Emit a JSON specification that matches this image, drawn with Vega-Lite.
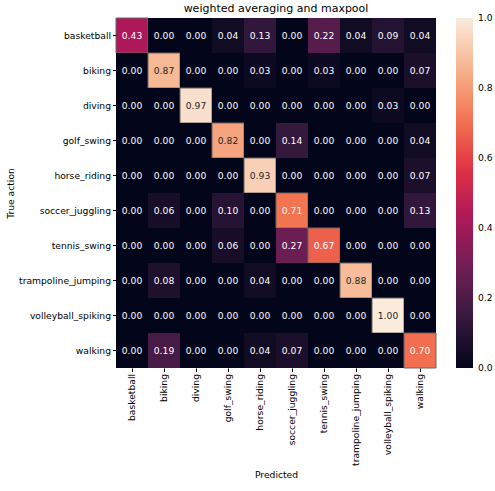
{
  "$schema": "https://vega.github.io/schema/vega-lite/v6.json",
  "autosize": {"type": "none"},
  "padding": {"left": 116, "top": 18, "right": 59, "bottom": 123},
  "width": 320,
  "height": 350,
  "background": "white",
  "title": {"text": "weighted averaging and maxpool", "font": "DejaVu Sans", "fontSize": 11, "fontWeight": "normal", "color": "black", "offset": 4, "anchor": "middle"},
  "config": {
    "view": {"stroke": null},
    "font": "DejaVu Sans",
    "axis": {"labelFont": "DejaVu Sans", "titleFont": "DejaVu Sans", "labelFontSize": 9.2, "titleFontSize": 9.2, "titleFontWeight": "normal", "labelColor": "black", "titleColor": "black", "tickColor": "black", "tickSize": 3.5, "domain": false, "grid": false, "labelPadding": 2}
  },
  "data": {"values": [
    {"t":"basketball","p":"basketball","v":0.43},{"t":"basketball","p":"biking","v":0.00},{"t":"basketball","p":"diving","v":0.00},{"t":"basketball","p":"golf_swing","v":0.04},{"t":"basketball","p":"horse_riding","v":0.13},{"t":"basketball","p":"soccer_juggling","v":0.00},{"t":"basketball","p":"tennis_swing","v":0.22},{"t":"basketball","p":"trampoline_jumping","v":0.04},{"t":"basketball","p":"volleyball_spiking","v":0.09},{"t":"basketball","p":"walking","v":0.04},
    {"t":"biking","p":"basketball","v":0.00},{"t":"biking","p":"biking","v":0.87},{"t":"biking","p":"diving","v":0.00},{"t":"biking","p":"golf_swing","v":0.00},{"t":"biking","p":"horse_riding","v":0.03},{"t":"biking","p":"soccer_juggling","v":0.00},{"t":"biking","p":"tennis_swing","v":0.03},{"t":"biking","p":"trampoline_jumping","v":0.00},{"t":"biking","p":"volleyball_spiking","v":0.00},{"t":"biking","p":"walking","v":0.07},
    {"t":"diving","p":"basketball","v":0.00},{"t":"diving","p":"biking","v":0.00},{"t":"diving","p":"diving","v":0.97},{"t":"diving","p":"golf_swing","v":0.00},{"t":"diving","p":"horse_riding","v":0.00},{"t":"diving","p":"soccer_juggling","v":0.00},{"t":"diving","p":"tennis_swing","v":0.00},{"t":"diving","p":"trampoline_jumping","v":0.00},{"t":"diving","p":"volleyball_spiking","v":0.03},{"t":"diving","p":"walking","v":0.00},
    {"t":"golf_swing","p":"basketball","v":0.00},{"t":"golf_swing","p":"biking","v":0.00},{"t":"golf_swing","p":"diving","v":0.00},{"t":"golf_swing","p":"golf_swing","v":0.82},{"t":"golf_swing","p":"horse_riding","v":0.00},{"t":"golf_swing","p":"soccer_juggling","v":0.14},{"t":"golf_swing","p":"tennis_swing","v":0.00},{"t":"golf_swing","p":"trampoline_jumping","v":0.00},{"t":"golf_swing","p":"volleyball_spiking","v":0.00},{"t":"golf_swing","p":"walking","v":0.04},
    {"t":"horse_riding","p":"basketball","v":0.00},{"t":"horse_riding","p":"biking","v":0.00},{"t":"horse_riding","p":"diving","v":0.00},{"t":"horse_riding","p":"golf_swing","v":0.00},{"t":"horse_riding","p":"horse_riding","v":0.93},{"t":"horse_riding","p":"soccer_juggling","v":0.00},{"t":"horse_riding","p":"tennis_swing","v":0.00},{"t":"horse_riding","p":"trampoline_jumping","v":0.00},{"t":"horse_riding","p":"volleyball_spiking","v":0.00},{"t":"horse_riding","p":"walking","v":0.07},
    {"t":"soccer_juggling","p":"basketball","v":0.00},{"t":"soccer_juggling","p":"biking","v":0.06},{"t":"soccer_juggling","p":"diving","v":0.00},{"t":"soccer_juggling","p":"golf_swing","v":0.10},{"t":"soccer_juggling","p":"horse_riding","v":0.00},{"t":"soccer_juggling","p":"soccer_juggling","v":0.71},{"t":"soccer_juggling","p":"tennis_swing","v":0.00},{"t":"soccer_juggling","p":"trampoline_jumping","v":0.00},{"t":"soccer_juggling","p":"volleyball_spiking","v":0.00},{"t":"soccer_juggling","p":"walking","v":0.13},
    {"t":"tennis_swing","p":"basketball","v":0.00},{"t":"tennis_swing","p":"biking","v":0.00},{"t":"tennis_swing","p":"diving","v":0.00},{"t":"tennis_swing","p":"golf_swing","v":0.06},{"t":"tennis_swing","p":"horse_riding","v":0.00},{"t":"tennis_swing","p":"soccer_juggling","v":0.27},{"t":"tennis_swing","p":"tennis_swing","v":0.67},{"t":"tennis_swing","p":"trampoline_jumping","v":0.00},{"t":"tennis_swing","p":"volleyball_spiking","v":0.00},{"t":"tennis_swing","p":"walking","v":0.00},
    {"t":"trampoline_jumping","p":"basketball","v":0.00},{"t":"trampoline_jumping","p":"biking","v":0.08},{"t":"trampoline_jumping","p":"diving","v":0.00},{"t":"trampoline_jumping","p":"golf_swing","v":0.00},{"t":"trampoline_jumping","p":"horse_riding","v":0.04},{"t":"trampoline_jumping","p":"soccer_juggling","v":0.00},{"t":"trampoline_jumping","p":"tennis_swing","v":0.00},{"t":"trampoline_jumping","p":"trampoline_jumping","v":0.88},{"t":"trampoline_jumping","p":"volleyball_spiking","v":0.00},{"t":"trampoline_jumping","p":"walking","v":0.00},
    {"t":"volleyball_spiking","p":"basketball","v":0.00},{"t":"volleyball_spiking","p":"biking","v":0.00},{"t":"volleyball_spiking","p":"diving","v":0.00},{"t":"volleyball_spiking","p":"golf_swing","v":0.00},{"t":"volleyball_spiking","p":"horse_riding","v":0.00},{"t":"volleyball_spiking","p":"soccer_juggling","v":0.00},{"t":"volleyball_spiking","p":"tennis_swing","v":0.00},{"t":"volleyball_spiking","p":"trampoline_jumping","v":0.00},{"t":"volleyball_spiking","p":"volleyball_spiking","v":1.00},{"t":"volleyball_spiking","p":"walking","v":0.00},
    {"t":"walking","p":"basketball","v":0.00},{"t":"walking","p":"biking","v":0.19},{"t":"walking","p":"diving","v":0.00},{"t":"walking","p":"golf_swing","v":0.00},{"t":"walking","p":"horse_riding","v":0.04},{"t":"walking","p":"soccer_juggling","v":0.07},{"t":"walking","p":"tennis_swing","v":0.00},{"t":"walking","p":"trampoline_jumping","v":0.00},{"t":"walking","p":"volleyball_spiking","v":0.00},{"t":"walking","p":"walking","v":0.70}
  ]},
  "encoding": {
    "x": {"field": "p", "type": "nominal", "sort": null, "title": "Predicted", "scale": {"paddingInner": 0, "paddingOuter": 0}, "axis": {"labelAngle": -90, "titlePadding": 5}},
    "y": {"field": "t", "type": "nominal", "sort": null, "title": "True action", "scale": {"paddingInner": 0, "paddingOuter": 0}, "axis": {"titlePadding": 3}}
  },
  "layer": [
    {
      "mark": {"type": "rect"},
      "encoding": {
        "color": {"field": "v", "type": "quantitative", "title": null,
          "scale": {"domain": [0, 1], "range": ["#03051a", "#35193e", "#701f57", "#ad1759", "#e13342", "#f37651", "#f6b48f", "#faebdd"], "interpolate": "rgb"},
          "legend": {"orient": "none", "legendX": 340, "legendY": 0, "gradientLength": 350, "gradientThickness": 17, "gradientStrokeWidth": 0, "values": [0, 0.2, 0.4, 0.6, 0.8, 1.0], "format": ".1f", "labelFontSize": 9.2, "labelFont": "DejaVu Sans", "labelColor": "black", "labelOffset": 5, "labelOverlap": false, "padding": 0, "direction": "vertical",
            "encode": {"labels": {"update": {"baseline": {"value": "middle"}}}}}
        },
        "stroke": {"condition": {"test": "datum.t === datum.p", "value": "#6e6460"}, "value": "transparent"},
        "strokeWidth": {"condition": {"test": "datum.t === datum.p", "value": 1}, "value": 0}
      }
    },
    {
      "mark": {"type": "text", "fontSize": 9.2, "font": "DejaVu Sans"},
      "encoding": {
        "text": {"field": "v", "type": "quantitative", "format": ".2f"},
        "color": {"condition": {"test": "datum.v > 0.75", "value": "#262626"}, "value": "white"}
      }
    }
  ]
}
